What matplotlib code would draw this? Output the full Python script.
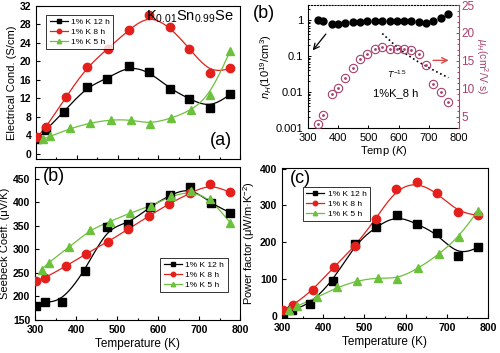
import numpy as np
import matplotlib
matplotlib.use("Agg")
import matplotlib.pyplot as plt
from matplotlib.ticker import MultipleLocator, FixedLocator, NullFormatter

plt.rcParams['font.family'] = ['Liberation Sans', 'DejaVu Sans']
plt.rcParams['mathtext.fontset'] = 'custom'
plt.rcParams['mathtext.rm'] = 'Liberation Sans'
plt.rcParams['mathtext.it'] = 'Liberation Sans:italic'

# ---- data ----
labels = ['1% K 12 h', '1% K 8 h', '1% K 5 h']

# (a) electrical conductivity, S/cm
t_k12 = [303, 325, 368, 424, 475, 527, 578, 628, 676, 727, 776]
t_k8 = [303, 325, 373, 424, 476, 527, 577, 628, 676, 727, 776]
t_k5 = [316, 335, 384, 432, 483, 532, 580, 631, 681, 727, 776]
sig_k12 = [3.2, 5.2, 9.1, 14.5, 16.3, 19.1, 17.8, 14.1, 11.9, 9.9, 12.9]
sig_k8 = [3.7, 5.8, 12.3, 18.7, 22.8, 26.8, 30.1, 27.5, 22.8, 17.4, 18.5]
sig_k5 = [3.2, 3.8, 5.5, 6.7, 7.4, 7.4, 6.5, 7.7, 9.4, 12.8, 22.3]

# (b) Seebeck, uV/K
ts_k12 = [302, 325, 365, 422, 476, 527, 580, 630, 679, 729, 776]
ts_k8 = [302, 325, 375, 425, 478, 527, 578, 627, 677, 727, 776]
ts_k5 = [316, 333, 384, 433, 482, 531, 582, 631, 681, 728, 776]
s_k12 = [179, 189, 189, 254, 347, 354, 390, 416, 432, 398, 378]
s_k8 = [233, 240, 264, 291, 316, 343, 371, 397, 419, 439, 421]
s_k5 = [257, 272, 305, 341, 359, 377, 392, 413, 424, 407, 357]

# (c) power factor, uW/mK^2
tp_k12 = [303, 325, 368, 424, 478, 527, 578, 628, 676, 727, 776]
tp_k8 = [303, 327, 375, 425, 478, 527, 577, 627, 677, 727, 776]
tp_k5 = [316, 336, 385, 433, 482, 532, 580, 631, 681, 729, 776]
pf_k12 = [5, 16, 32, 95, 196, 241, 274, 249, 224, 163, 186]
pf_k8 = [16, 29, 70, 132, 190, 263, 345, 364, 334, 282, 273]
pf_k5 = [17, 26, 50, 77, 95, 104, 100, 129, 167, 214, 286]

# (b, top right) Hall data for 1%K_8 h
t_hall = [334, 349, 378, 398, 424, 449, 473, 497, 522, 546, 570, 594, 618, 642, 666, 691, 715, 739, 764]
n_hall = [1.0, 0.94, 0.77, 0.77, 0.84, 0.88, 0.9, 0.92, 0.94, 0.96, 0.96, 0.96, 0.94, 0.92, 0.86, 0.84, 0.96, 1.11, 1.47]
mu_hall = [3.8, 5.3, 9.0, 10.2, 12.0, 13.8, 15.3, 16.2, 17.1, 17.5, 17.1, 17.2, 17.1, 16.9, 16.2, 14.3, 10.8, 9.5, 7.6]
t_guide = [546, 580, 620, 660, 700, 735, 765]
mu_guide = [19.9, 18.2, 16.4, 15.0, 13.8, 12.8, 12.0]

black = '#000000'
red = '#e3201b'
green = '#6cc13c'
pink = '#a8406c'


def bspline(x, y, n=25):
    p = np.column_stack([x, y]).astype(float)
    p = np.vstack([p[0], p[0], p, p[-1], p[-1]])
    t = np.linspace(0, 1, n, endpoint=False)[:, None]
    b0 = (1 - t) ** 3 / 6
    b1 = (3 * t ** 3 - 6 * t ** 2 + 4) / 6
    b2 = (-3 * t ** 3 + 3 * t ** 2 + 3 * t + 1) / 6
    b3 = t ** 3 / 6
    segs = [b0 * p[i] + b1 * p[i + 1] + b2 * p[i + 2] + b3 * p[i + 3] for i in range(len(p) - 3)]
    c = np.vstack(segs + [p[-1][None, :]])
    return c[:, 0], c[:, 1]


def draw_series(ax, sets):
    handles = []
    for (xs, ys), col, mk, ms, lab in sets:
        cx, cy = bspline(xs, ys)
        ax.plot(cx, cy, color=col, lw=0.9, zorder=2)
        ax.plot(xs, ys, ls='none', marker=mk, color=col, ms=ms, zorder=3)
        h, = ax.plot([], [], color=col, lw=0.9, marker=mk, ms=3.2, label=lab)
        handles.append(h)
    return handles


def style(ax):
    ax.tick_params(direction='in', which='both', labelsize=7.5, length=3, width=0.8)
    ax.tick_params(which='minor', length=1.8)
    for lab in ax.get_xticklabels() + ax.get_yticklabels():
        lab.set_fontweight('bold')
    for s in ax.spines.values():
        s.set_linewidth(0.8)


fig = plt.figure(figsize=(5.0, 3.53), dpi=100)

# ---- (a) ----
ax1 = fig.add_axes([0.072, 0.5496, 0.408, 0.4334])
hs = draw_series(ax1, [((t_k12, sig_k12), black, 's', 5.5, labels[0]),
                       ((t_k8, sig_k8), red, 'o', 6, labels[1]),
                       ((t_k5, sig_k5), green, '^', 6, labels[2])])
ax1.set_xlim(300, 800)
ax1.set_ylim(-1.1, 32)
ax1.yaxis.set_major_locator(MultipleLocator(4))
ax1.xaxis.set_major_locator(MultipleLocator(100))
ax1.xaxis.set_minor_locator(MultipleLocator(50))
ax1.xaxis.set_major_formatter(NullFormatter())
ax1.set_ylabel('Electrical Cond. (S/cm)', fontsize=8, labelpad=2)
style(ax1)
ax1.legend(handles=hs, loc='upper left', fontsize=6, frameon=True, fancybox=False,
           edgecolor='black', handlelength=2.2, borderpad=0.4, labelspacing=0.25,
           handletextpad=0.4, bbox_to_anchor=(0.03, 0.97)).get_frame().set_linewidth(0.7)
ax1.text(0.97, 0.93, 'K$_{0.01}$Sn$_{0.99}$Se', transform=ax1.transAxes, ha='right', va='center', fontsize=10.5)
ax1.text(0.96, 0.12, '(a)', transform=ax1.transAxes, ha='right', va='center', fontsize=13)

# ---- (b) Seebeck ----
ax2 = fig.add_axes([0.07, 0.0935, 0.41, 0.4334])
hs = draw_series(ax2, [((ts_k12, s_k12), black, 's', 5.5, labels[0]),
                       ((ts_k8, s_k8), red, 'o', 6, labels[1]),
                       ((ts_k5, s_k5), green, '^', 6, labels[2])])
ax2.set_xlim(300, 800)
ax2.set_ylim(150, 475)
ax2.yaxis.set_major_locator(FixedLocator([150, 200, 250, 300, 350, 400, 450]))
ax2.xaxis.set_major_locator(MultipleLocator(100))
ax2.xaxis.set_minor_locator(MultipleLocator(50))
ax2.set_ylabel('Seebeck Coeff. (μV/K)', fontsize=8, labelpad=2)
ax2.set_xlabel('Temperature (K)', fontsize=8.5, labelpad=2)
style(ax2)
ax2.legend(handles=hs, loc='lower right', fontsize=6, frameon=True, fancybox=False,
           edgecolor='black', handlelength=2.2, borderpad=0.4, labelspacing=0.25,
           handletextpad=0.4, borderaxespad=0, bbox_to_anchor=(0.94, 0.18)).get_frame().set_linewidth(0.7)
ax2.text(0.04, 0.94, '(b)', transform=ax2.transAxes, ha='left', va='center', fontsize=13)

# ---- (c) power factor ----
ax3 = fig.add_axes([0.564, 0.0992, 0.412, 0.425])
hs = draw_series(ax3, [((tp_k12, pf_k12), black, 's', 5.5, labels[0]),
                       ((tp_k8, pf_k8), red, 'o', 6, labels[1]),
                       ((tp_k5, pf_k5), green, '^', 6, labels[2])])
ax3.set_xlim(300, 800)
ax3.set_ylim(-6, 402)
ax3.yaxis.set_major_locator(MultipleLocator(100))
ax3.xaxis.set_major_locator(MultipleLocator(100))
ax3.xaxis.set_minor_locator(MultipleLocator(50))
ax3.set_ylabel('Power factor (μW/m·K$^{-2}$)', fontsize=8, labelpad=2)
ax3.set_xlabel('Temperature (K)', fontsize=8.5, labelpad=2)
style(ax3)
ax3.legend(handles=hs, loc='upper left', fontsize=6, frameon=True, fancybox=False,
           edgecolor='black', handlelength=2.2, borderpad=0.4, labelspacing=0.25,
           handletextpad=0.4, bbox_to_anchor=(0.08, 0.9)).get_frame().set_linewidth(0.7)
ax3.text(0.04, 0.93, '(c)', transform=ax3.transAxes, ha='left', va='center', fontsize=13)

# ---- (b) top right: Hall ----
ax4 = fig.add_axes([0.616, 0.6374, 0.302, 0.3484])
ax4.semilogy(t_hall, n_hall, 'o', color='black', ms=5, zorder=3)
ax4.set_xlim(300, 800)
ax4.set_ylim(0.001, 2.6)
ax4.yaxis.set_major_locator(FixedLocator([0.001, 0.01, 0.1, 1]))
ax4.set_yticklabels(['0.001', '0.01', '0.1', '1'])
ax4.yaxis.set_minor_formatter(NullFormatter())
ax4.xaxis.set_major_locator(MultipleLocator(100))
ax4.tick_params(direction='in', which='both', labelsize=8, length=2.5, width=0.7, top=False)
ax4.tick_params(which='minor', length=1.5)
ax4.set_xlabel('Temp ($K$)', fontsize=8, labelpad=1)
ax4.set_ylabel('$n_H$(10$^{19}$/cm$^3$)', fontsize=8, labelpad=1)
ax4.spines['top'].set_linestyle(':')
ax4.spines['right'].set_visible(False)

ax5 = ax4.twinx()
ax5.plot(t_hall, mu_hall, 'o', mfc='none', mec=pink, mew=0.8, ms=6, zorder=3)
ax5.plot(t_hall, mu_hall, '.', color=pink, ms=2, zorder=3)
ax5.plot(t_guide, mu_guide, ':', color='black', lw=1.2)
ax5.set_ylim(3, 25)
ax5.yaxis.set_major_locator(MultipleLocator(5))
ax5.yaxis.set_minor_locator(MultipleLocator(1))
ax5.tick_params(axis='y', direction='in', which='both', colors=pink, labelsize=8.5, length=2.5, width=0.7, pad=1.5)
ax5.tick_params(which='minor', length=1.5)
ax5.spines['right'].set_color(pink)
ax5.spines['top'].set_visible(False)
ax5.spines['left'].set_visible(False)
ax5.spines['bottom'].set_visible(False)
ax5.set_ylabel('$\\mu_H$(cm$^2$/V·s)', fontsize=7.5, color=pink, rotation=270, labelpad=11)

ax5.annotate('', xy=(310, 16.5), xytext=(365, 20.2),
             arrowprops=dict(arrowstyle='->', color='black', lw=0.9))
ax5.annotate('', xy=(775, 15.1), xytext=(705, 15.1),
             arrowprops=dict(arrowstyle='->', color='#e04848', lw=1.0))
ax5.text(595, 12.6, '$T^{-1.5}$', fontsize=6.5, ha='center', va='center')
ax5.text(590, 9.2, '1%K_8 h', fontsize=8, ha='center', va='center')
fig.text(0.505, 0.962, '(b)', fontsize=13, ha='left', va='center')

fig.savefig('out.png', dpi=100)
